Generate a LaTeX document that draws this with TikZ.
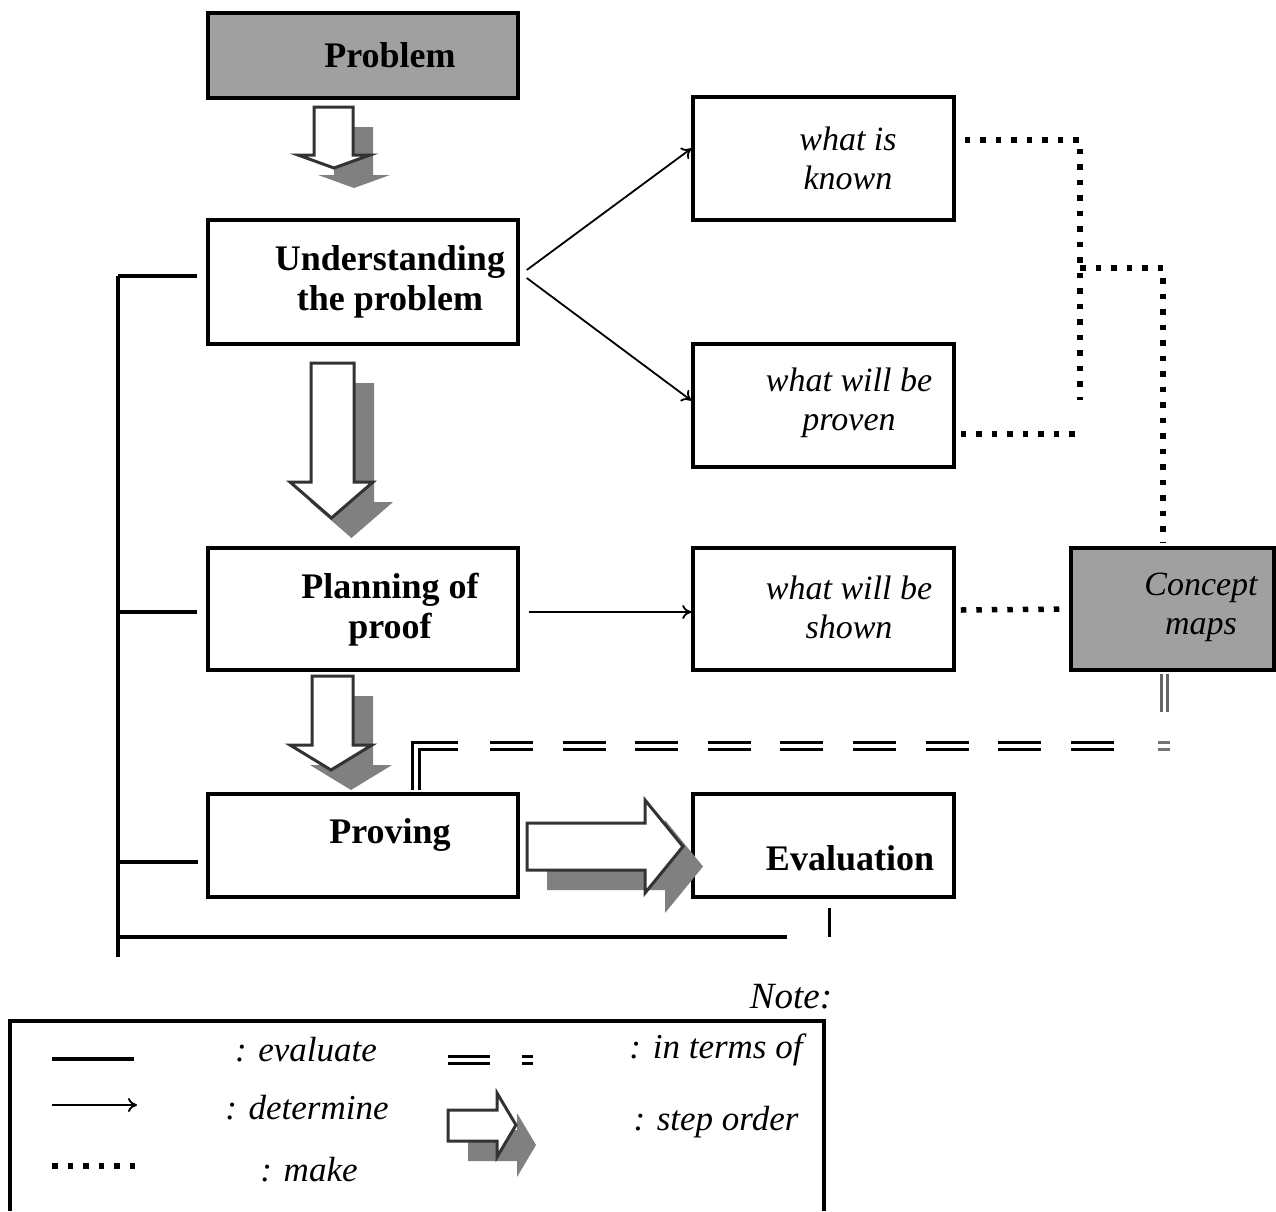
\documentclass[tikz,border=0pt]{standalone}
\usepackage{fontspec}
\setmainfont{Liberation Serif}
\usetikzlibrary{arrows.meta,calc}
\definecolor{boxgray}{HTML}{A0A0A0}
\definecolor{shadowgray}{HTML}{808080}
\definecolor{arrowline}{HTML}{333333}
\newcommand{\DArrow}[8]{% options, xl, xr, ytop, ybase, headl, headr, ytip
  \path[#1] (#2,#4) -- (#3,#4) -- (#3,#5) -- (#7,#5) -- ({(#6+#7)/2},#8) -- (#6,#5) -- (#2,#5) -- cycle;}
\newcommand{\RArrow}[8]{% options, xl, xbase, xtip, yshaftt, yshaftb, yheadt, yheadb
  \path[#1] (#2,#5) -- (#3,#5) -- (#3,#7) -- (#4,{(#7+#8)/2}) -- (#3,#8) -- (#3,#6) -- (#2,#6) -- cycle;}
\begin{document}
\begin{tikzpicture}[x=1pt,y=-1pt,
  box/.style={draw=black, line width=3.5pt, inner sep=0pt, fill=white},
  graybox/.style={box, fill=boxgray},
  btxt/.style={font=\fontsize{36}{40}\selectfont\bfseries, align=center, inner sep=0pt},
  itxt/.style={font=\fontsize{34}{39}\selectfont\itshape, align=center, inner sep=0pt},
  evalline/.style={line width=4pt},
  det/.style={line width=1.8pt, -{To[length=9pt,width=14pt]}},
  make/.style={line width=5.5pt, dash pattern=on 5.5pt off 10pt},
  terms/.style={line width=3.2pt, double distance=3.4pt, line join=miter},
  shadowfill/.style={fill=shadowgray},
  arrowfill/.style={fill=white, draw=arrowline, line width=3pt, line join=miter},
  legtxt/.style={font=\fontsize{35}{40}\selectfont\itshape, inner sep=0pt}
]
\useasboundingbox (0,0) rectangle (1276,1211);

% ---------- boxes ----------
\node[graybox, minimum width=310pt, minimum height=85pt] (prob) at (363,55.5) {};
\node[box, minimum width=310pt, minimum height=124pt] (und) at (363,282) {};
\node[box, minimum width=310pt, minimum height=122pt] (plan) at (363,609) {};
\node[box, minimum width=310pt, minimum height=103pt] (prov) at (363,845.5) {};
\node[box, minimum width=261pt, minimum height=123pt] (known) at (823.5,158.5) {};
\node[box, minimum width=261pt, minimum height=123pt] (proven) at (823.5,405.5) {};
\node[box, minimum width=261pt, minimum height=122pt] (shown) at (823.5,609) {};
\node[box, minimum width=261pt, minimum height=103pt] (eval) at (823.5,845.5) {};
\node[graybox, minimum width=203pt, minimum height=122pt] (cm) at (1172.5,609) {};

% ---------- texts ----------
\node[btxt] (probt) at (390,55) {Problem};
\node[btxt] (undt) at (390,282) {Understanding\\the problem};
\node[btxt] (plant) at (390,610) {Planning of\\proof};
\node[btxt] (provt) at (390,835) {Proving};
\node[btxt] (evalt) at (850,858) {Evaluation};
\node[itxt] (knownt) at (848,158) {what is\\known};
\node[itxt] (provent) at (849,403) {what will be\\proven};
\node[itxt] (shownt) at (849,607) {what will be\\shown};
\node[itxt] (cmt) at (1201,607) {Concept\\maps};

% ---------- step-order block arrows ----------
\DArrow{shadowfill, shift={(20,20)}}{314}{353}{107}{155}{298}{370}{168}
\DArrow{arrowfill}{314}{353}{107}{155}{298}{370}{168}
\DArrow{shadowfill, shift={(20,20)}}{311}{354}{363}{482}{290}{373}{518}
\DArrow{arrowfill}{311}{354}{363}{482}{290}{373}{518}
\DArrow{shadowfill, shift={(20,20)}}{312}{353}{676}{745}{290}{372}{770}
\DArrow{arrowfill}{312}{353}{676}{745}{290}{372}{770}
\RArrow{shadowfill, shift={(20,20)}}{527}{645}{683}{823}{870}{800}{893}
\RArrow{arrowfill}{527}{645}{683}{823}{870}{800}{893}

% ---------- determine arrows ----------
\draw[det] ([shift={(7,-12)}]und.east) -- ([shift={(0,-10)}]known.west);
\draw[det] ([shift={(7,-4)}]und.east) -- ([shift={(0,-5)}]proven.west);
\draw[det] ([shift={(9,3)}]plan.east) -- ([shift={(0,3)}]shown.west);

% ---------- make (dotted) ----------
\coordinate (m1) at (1080,400);
\coordinate (m2) at (1080,268);
\coordinate (m3) at (1077,434);
\draw[make] ([shift={(9,-18.5)}]known.east) -| (m1);
\draw[make] (m2) -| ([shift={(-9.5,-4)}]cm.north);
\draw[make] ([shift={(5,28.5)}]proven.east) -- (m3);
\draw[make] ([shift={(5,1)}]shown.east) -- (cm.west);

% ---------- in terms of (double dashed) ----------
\coordinate (t0) at (416,790);
\coordinate (t1) at (416,746);
\coordinate (t2) at (458,746);
\coordinate (t3) at (490,746);
\coordinate (t4) at (1116,746);
\draw[terms] (t0) -- (t1) -- (t2);
\draw[terms, dash pattern=on 43pt off 29.6pt] (t3) -- (t4);
\coordinate (t5) at (1164.5,712);
\draw[terms, draw=black!60] ([shift={(-8,2)}]cm.south) -- (t5);
\coordinate (t6) at (1158,746);
\coordinate (t7) at (1170,746);
\draw[terms, draw=black!55] (t6) -- (t7);

% ---------- evaluate lines ----------
\coordinate (e0) at (118,276);
\coordinate (e1) at (118,957);
\coordinate (e2) at (118,937);
\coordinate (e3) at (787,937);
\coordinate (e4) at (829,937);
\draw[evalline] (e0) -- (e1);
\draw[evalline] (e0) -- ([shift={(-9,-6)}]und.west);
\draw[evalline] (118,612) -- ([shift={(-9,3)}]plan.west);
\draw[evalline] (118,862) -- ([shift={(-8,16.5)}]prov.west);
\draw[evalline] (e2) -- (e3);
\draw[line width=3pt] ([shift={(5.5,9)}]eval.south) -- (e4);

% ---------- note / legend ----------
\node[legtxt, font=\fontsize{37}{40}\selectfont\itshape] (note) at (791,997) {Note:};
\draw[line width=3.5pt] (10,1211) -- (10,1021) -- (824,1021) -- (824,1211);

\coordinate (l1a) at (52,1059);
\coordinate (l1b) at (134,1059);
\draw[evalline] (l1a) -- (l1b);
\node[legtxt] (lev) at (306,1050) {: evaluate};

\coordinate (l2a) at (52,1105);
\coordinate (l2b) at (137,1105);
\draw[det] (l2a) -- (l2b);
\node[legtxt] (ldet) at (307,1108) {: determine};

\coordinate (l3a) at (52,1166);
\coordinate (l3b) at (140,1166);
\draw[make] (l3a) -- (l3b);
\node[legtxt] (lmake) at (309,1170) {: make};

\coordinate (l4a) at (448,1060);
\coordinate (l4b) at (490,1060);
\draw[terms] (l4a) -- (l4b);
\coordinate (l5a) at (522,1060);
\coordinate (l5b) at (533,1060);
\draw[terms] (l5a) -- (l5b);
\node[legtxt] (lterms) at (716,1050) {: in terms of};

\RArrow{shadowfill, shift={(20,20)}}{448}{497}{516}{1110}{1141}{1093}{1157}
\RArrow{arrowfill}{448}{497}{516}{1110}{1141}{1093}{1157}
\node[legtxt] (lstep) at (716,1122) {: step order};
\end{tikzpicture}
\end{document}
